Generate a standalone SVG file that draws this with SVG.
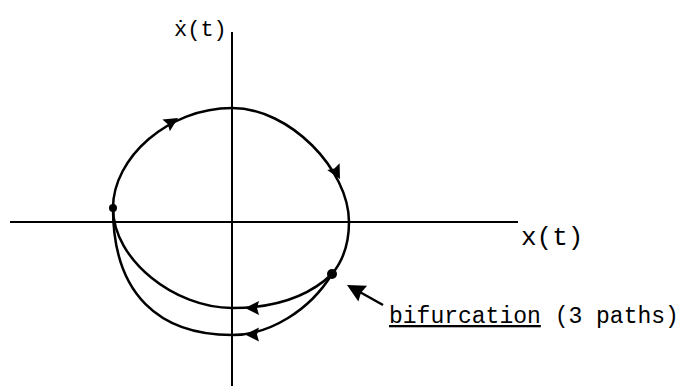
<svg xmlns="http://www.w3.org/2000/svg" width="685" height="390" viewBox="0 0 685 390">
<style>
.ax{stroke:#000;stroke-width:2;fill:none}
.cv{stroke:#000;stroke-width:2.5;fill:none}
.lb{font-family:"Liberation Mono","DejaVu Sans Mono",monospace;fill:#000}
</style>
<defs>
<path id="ah" d="M0,0 L-14,-7 L-12,0 L-14,7 Z" fill="#000"/>
<path id="ahb" d="M0,0 L-18,-9 L-16,0 L-18,9 Z" fill="#000"/>
</defs>
<g id="axes">
<line class="ax" x1="232" y1="32" x2="232" y2="386"/>
<line class="ax" x1="10" y1="222" x2="518" y2="222"/>
</g>
<g id="connectors">
<path id="cycle" class="cv" d="M113,208 C113,158 168,108 232,108 C290,108 349,170 349,222 C349,245 342,262 332,274"/>
<path id="outer" class="cv" d="M332,274 C310,310 270,335 232,335 C160,335 113,295 113,208"/>
<path id="inner" class="cv" d="M332,274 C305,300 270,308 232,308 C175,308 113,260 113,208"/>
<use href="#ah" transform="translate(178,118) rotate(-32)"/>
<use href="#ah" transform="translate(340,179) rotate(62)"/>
<use href="#ah" transform="translate(245,308) rotate(180)"/>
<use href="#ah" transform="translate(245,334.5) rotate(180)"/>
<line class="cv" x1="383" y1="305" x2="358" y2="291"/>
<use href="#ahb" transform="translate(347,285) rotate(209)"/>
</g>
<g id="node-left"><circle cx="113" cy="208" r="4" fill="#000"/></g>
<g id="node-bif"><circle cx="332" cy="274" r="5" fill="#000"/></g>
<g id="labels">
<text class="lb" x="174" y="36" font-size="22">ẋ(t)</text>
<text class="lb" x="521" y="245" font-size="26">x(t)</text>
<text class="lb" x="389" y="323" font-size="23"><tspan text-decoration="underline">bifurcation</tspan> (3 paths)</text>
</g>
</svg>
